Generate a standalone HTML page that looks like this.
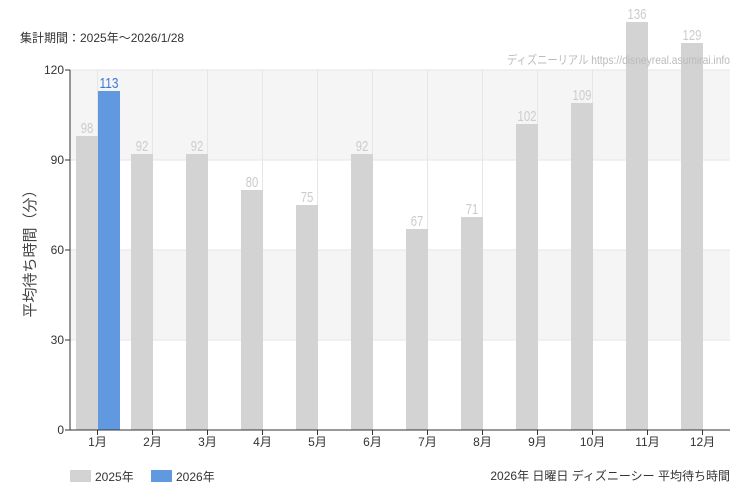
<!DOCTYPE html>
<html><head><meta charset="utf-8"><style>
body{margin:0;background:#fff;}
svg{display:block;font-family:"Liberation Sans","Noto Sans CJK JP",sans-serif;}
.val{font-size:15px;text-anchor:middle;}
</style></head><body>
<svg id="c" width="750" height="500" viewBox="0 0 750 500">
<text x="20" y="42" font-size="12" fill="#333">集計期間：2025年～2026/1/28</text>
<g id="bands"></g><g id="grid"></g><g id="bars"></g>
<text x="507" y="64" font-size="12" fill="#bbb" textLength="223" lengthAdjust="spacingAndGlyphs">ディズニーリアル https://disneyreal.asumirai.info</text>
<g id="axes"></g>
<text transform="translate(35,250) rotate(-90)" font-size="15" fill="#444" text-anchor="middle">平均待ち時間（分）</text>
<rect x="70" y="470" width="21" height="12" fill="#d3d3d3"/>
<text x="95" y="481" font-size="12" fill="#333">2025年</text>
<rect x="151" y="470" width="21" height="12" fill="#6199e0"/>
<text x="176" y="481" font-size="12" fill="#333">2026年</text>
<text x="730" y="480" font-size="12" fill="#333" text-anchor="end">2026年 日曜日 ディズニーシー 平均待ち時間</text>
</svg>
<script>
const categories=["1月","2月","3月","4月","5月","6月","7月","8月","9月","10月","11月","12月"];
const values2025=[98,92,92,80,75,92,67,71,102,109,136,129];
const values2026=[113];
const yTicks=[0,30,60,90,120];
const NS="http://www.w3.org/2000/svg";
const L=70,R=730,T=70,B=430,YMAX=120;
const y=v=>B-(v/YMAX)*(B-T);
const bw=(R-L)/categories.length;
const xc=i=>L+bw*(i+0.5);
function mk(p,tag,a){const e=document.createElementNS(NS,tag);for(const k in a)e.setAttribute(k,a[k]);document.getElementById(p).appendChild(e);return e;}
for(let i=0;i<yTicks.length-1;i++){
 if(i%2===1){const r=mk('bands','rect',{x:L,y:y(yTicks[i+1]),width:R-L,height:y(yTicks[i])-y(yTicks[i+1]),fill:'#f5f5f5'});
 
 }
}
yTicks.forEach(t=>{const l=mk('grid','line',{x1:L,x2:R,y1:y(t),y2:y(t),stroke:'#e6e6e6'});
 
 
 const tx=mk('axes','text',{x:L-6,y:y(t)+4,'font-size':12,fill:'#333','text-anchor':'end'});tx.textContent=t;
 
 
 mk('axes','line',{x1:L-5,x2:L,y1:y(t),y2:y(t),stroke:'#333'});});
categories.forEach((c,i)=>{
 const g=mk('grid','line',{x1:xc(i),x2:xc(i),y1:T,y2:B,stroke:'#e6e6e6'});
 
 
 const t=mk('axes','text',{x:xc(i),y:B+16,'font-size':12,fill:'#333','text-anchor':'middle'});t.textContent=c;
 
 
 mk('axes','line',{x1:xc(i),x2:xc(i),y1:B,y2:B+5,stroke:'#333'});
 const v=values2025[i];
 const b=mk('bars','rect',{x:xc(i)-21.5,y:y(v),width:22,height:B-y(v),fill:'#d3d3d3'});
 
 
 const lt=mk('bars','text',{x:xc(i)-10.5,y:y(v)-3,fill:'#ccc',class:'val',textLength:String(v).length*6.3,lengthAdjust:'spacingAndGlyphs'});lt.textContent=v;
 
 
 if(values2026[i]!==undefined){const w=values2026[i];
  const b2=mk('bars','rect',{x:xc(i)+0.5,y:y(w),width:22,height:B-y(w),fill:'#6199e0'});
  
  
  const l2=mk('bars','text',{x:xc(i)+11.5,y:y(w)-3,fill:'#3a78d6',class:'val',textLength:String(w).length*6.3,lengthAdjust:'spacingAndGlyphs'});l2.textContent=w;
  
  }
});
mk('axes','line',{x1:L,x2:L,y1:T,y2:B,stroke:'#333'});
mk('axes','line',{x1:L,x2:R,y1:B,y2:B,stroke:'#333'});
</script>
</body></html>
